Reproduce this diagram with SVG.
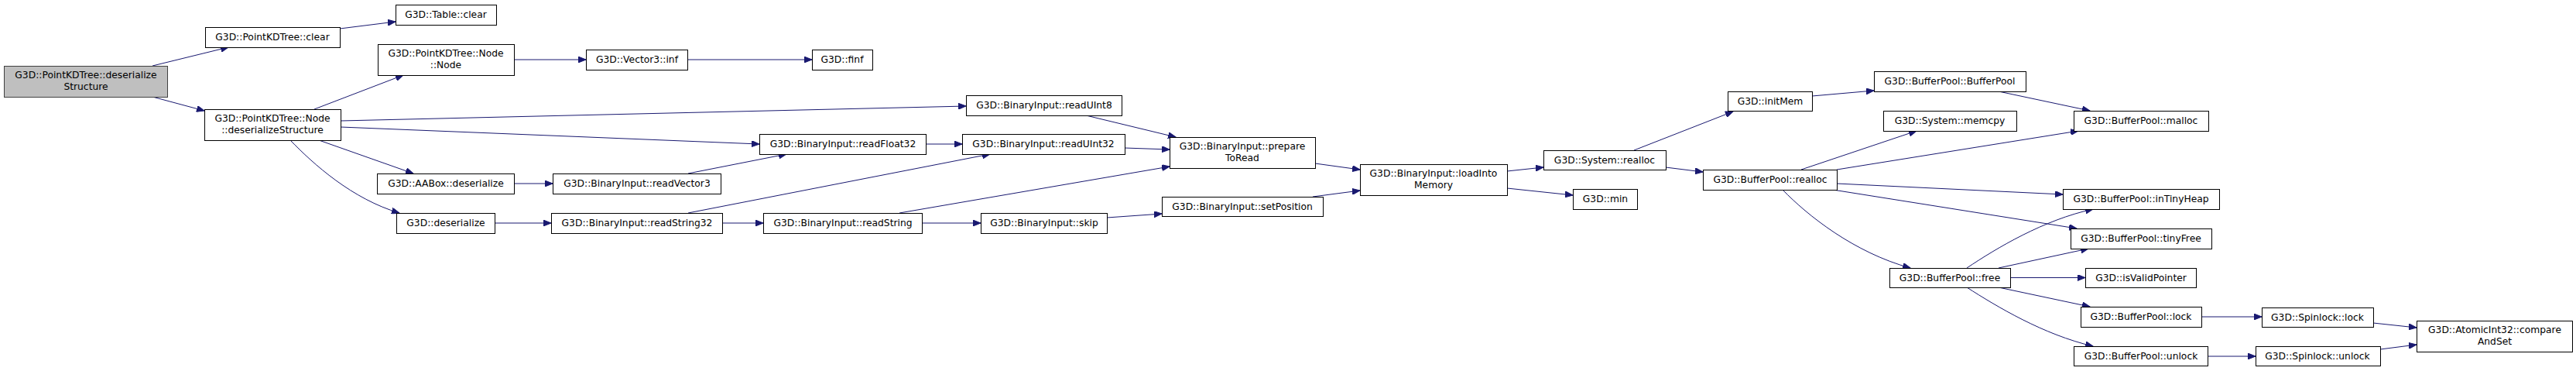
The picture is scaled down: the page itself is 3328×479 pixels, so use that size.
<svg xmlns="http://www.w3.org/2000/svg" width="3328" height="479" viewBox="0 0 3328 479">
<defs>
<marker id="ah" markerUnits="userSpaceOnUse" markerWidth="11" markerHeight="8" refX="10" refY="4" orient="auto">
<path d="M0,0 L10,4 L0,8 Z" fill="#191970" stroke="#191970" stroke-width="1"/>
</marker>
</defs>
<style>
rect{fill:#fff;stroke:#000;stroke-width:1}
.root rect{fill:#bfbfbf;stroke:#404040}
text{font-family:"DejaVu Sans",sans-serif;font-size:12.3px;text-anchor:middle;fill:#000}
#edges path{fill:none;stroke:#191970;stroke-width:1;marker-end:url(#ah)}
</style>
<rect x="0" y="0" width="3328" height="479" style="fill:#fff;stroke:none"/>
<g id="edges">
<path d="M197,85 L295,61"/>
<path d="M197,125 L264,143"/>
<path d="M439,37 L511,28"/>
<path d="M406,141 L521,97"/>
<path d="M440,156 L1248,137"/>
<path d="M440,164 L981,186"/>
<path d="M412,181 L534,224"/>
<path d="M375,181 C405,212 455,257 516,275"/>
<path d="M664,77 L757,77"/>
<path d="M888,77 L1049,77"/>
<path d="M664,237 L714,237"/>
<path d="M889,224 L1016,199"/>
<path d="M639,288 L712,288"/>
<path d="M889,275 L1279,199"/>
<path d="M933,288 L986,288"/>
<path d="M1196,186 L1243,186"/>
<path d="M1162,275 L1511,215"/>
<path d="M1191,288 L1267,288"/>
<path d="M1403,149 L1519,177"/>
<path d="M1453,191 L1511,193"/>
<path d="M1430,281 L1501,276"/>
<path d="M1699,211 L1757,219"/>
<path d="M1696,254 L1757,246"/>
<path d="M1947,221 L1994,216"/>
<path d="M1947,243 L2032,252"/>
<path d="M2111,194 L2239,144"/>
<path d="M2152,216 L2200,222"/>
<path d="M2341,124 L2421,117"/>
<path d="M2582,118 L2700,143"/>
<path d="M2327,219 L2476,169"/>
<path d="M2373,219 L2685,169"/>
<path d="M2373,237 L2665,251"/>
<path d="M2368,245 L2683,295"/>
<path d="M2303,245 C2335,278 2395,326 2468,346"/>
<path d="M2541,346 C2580,320 2640,284 2704,270"/>
<path d="M2582,346 L2698,321"/>
<path d="M2597,358.5 L2694,358.5"/>
<path d="M2582,371 L2700,396"/>
<path d="M2541,371 C2580,396 2640,432 2704,447"/>
<path d="M2844,409 L2922,409"/>
<path d="M2852,460 L2914,460"/>
<path d="M3066,417 L3122,423"/>
<path d="M3075,451 L3122,445"/>
</g>
<g id="n_root" class="root"><rect x="5.5" y="85.5" width="211" height="40"/><text x="111" y="101">G3D::PointKDTree::deserialize</text><text x="111" y="116">Structure</text></g>
<g id="n_clear"><rect x="265.5" y="35.5" width="174" height="26"/><text x="352" y="52">G3D::PointKDTree::clear</text></g>
<g id="n_ds"><rect x="264.5" y="141.5" width="176" height="40"/><text x="352" y="157">G3D::PointKDTree::Node</text><text x="352" y="172">::deserializeStructure</text></g>
<g id="n_tableclear"><rect x="511.5" y="6.5" width="130" height="26"/><text x="576" y="23">G3D::Table::clear</text></g>
<g id="n_nodenode"><rect x="488.5" y="57.5" width="176" height="40"/><text x="576" y="73">G3D::PointKDTree::Node</text><text x="576" y="88">::Node</text></g>
<g id="n_aabox"><rect x="487.5" y="224.5" width="177" height="26"/><text x="576" y="241">G3D::AABox::deserialize</text></g>
<g id="n_deser"><rect x="512.5" y="275.5" width="127" height="26"/><text x="576" y="292">G3D::deserialize</text></g>
<g id="n_inf"><rect x="757.5" y="64.5" width="131" height="26"/><text x="823" y="81">G3D::Vector3::inf</text></g>
<g id="n_finf"><rect x="1049.5" y="64.5" width="78" height="26"/><text x="1088" y="81">G3D::finf</text></g>
<g id="n_readvec3"><rect x="714.5" y="224.5" width="217" height="26"/><text x="823" y="241">G3D::BinaryInput::readVector3</text></g>
<g id="n_readstr32"><rect x="712.5" y="275.5" width="221" height="26"/><text x="823" y="292">G3D::BinaryInput::readString32</text></g>
<g id="n_readfloat32"><rect x="981.5" y="173.5" width="215" height="26"/><text x="1089" y="190">G3D::BinaryInput::readFloat32</text></g>
<g id="n_readstr"><rect x="986.5" y="275.5" width="205" height="26"/><text x="1089" y="292">G3D::BinaryInput::readString</text></g>
<g id="n_readuint8"><rect x="1248.5" y="123.5" width="201" height="26"/><text x="1349" y="140">G3D::BinaryInput::readUInt8</text></g>
<g id="n_readuint32"><rect x="1243.5" y="173.5" width="210" height="26"/><text x="1348" y="190">G3D::BinaryInput::readUInt32</text></g>
<g id="n_skip"><rect x="1267.5" y="275.5" width="163" height="26"/><text x="1349" y="292">G3D::BinaryInput::skip</text></g>
<g id="n_prepare"><rect x="1511.5" y="177.5" width="188" height="40"/><text x="1605" y="193">G3D::BinaryInput::prepare</text><text x="1605" y="208">ToRead</text></g>
<g id="n_setpos"><rect x="1501.5" y="254.5" width="208" height="25"/><text x="1605" y="271">G3D::BinaryInput::setPosition</text></g>
<g id="n_load"><rect x="1757.5" y="212.5" width="190" height="40"/><text x="1852" y="228">G3D::BinaryInput::loadInto</text><text x="1852" y="243">Memory</text></g>
<g id="n_sysrealloc"><rect x="1994.5" y="194.5" width="158" height="25"/><text x="2073" y="211">G3D::System::realloc</text></g>
<g id="n_min"><rect x="2032.5" y="244.5" width="83" height="26"/><text x="2074" y="261">G3D::min</text></g>
<g id="n_initmem"><rect x="2232.5" y="118.5" width="109" height="25"/><text x="2287" y="135">G3D::initMem</text></g>
<g id="n_bprealloc"><rect x="2200.5" y="219.5" width="173" height="26"/><text x="2287" y="236">G3D::BufferPool::realloc</text></g>
<g id="n_bpbp"><rect x="2421.5" y="92.5" width="196" height="26"/><text x="2519" y="109">G3D::BufferPool::BufferPool</text></g>
<g id="n_memcpy"><rect x="2433.5" y="143.5" width="172" height="26"/><text x="2519" y="160">G3D::System::memcpy</text></g>
<g id="n_malloc"><rect x="2679.5" y="143.5" width="174" height="26"/><text x="2766" y="160">G3D::BufferPool::malloc</text></g>
<g id="n_free"><rect x="2441.5" y="346.5" width="156" height="25"/><text x="2519" y="363">G3D::BufferPool::free</text></g>
<g id="n_intiny"><rect x="2665.5" y="244.5" width="202" height="26"/><text x="2766" y="261">G3D::BufferPool::inTinyHeap</text></g>
<g id="n_tinyfree"><rect x="2675.5" y="295.5" width="182" height="26"/><text x="2766" y="312">G3D::BufferPool::tinyFree</text></g>
<g id="n_isvalid"><rect x="2694.5" y="346.5" width="143" height="25"/><text x="2766" y="363">G3D::isValidPointer</text></g>
<g id="n_bplock"><rect x="2688.5" y="396.5" width="156" height="26"/><text x="2766" y="413">G3D::BufferPool::lock</text></g>
<g id="n_bpunlock"><rect x="2679.5" y="447.5" width="173" height="25"/><text x="2766" y="464">G3D::BufferPool::unlock</text></g>
<g id="n_slock"><rect x="2922.5" y="397.5" width="144" height="25"/><text x="2994" y="414">G3D::Spinlock::lock</text></g>
<g id="n_sunlock"><rect x="2914.5" y="447.5" width="161" height="25"/><text x="2994" y="464">G3D::Spinlock::unlock</text></g>
<g id="n_cas"><rect x="3122.5" y="414.5" width="201" height="40"/><text x="3223" y="430">G3D::AtomicInt32::compare</text><text x="3223" y="445">AndSet</text></g>
</svg>
